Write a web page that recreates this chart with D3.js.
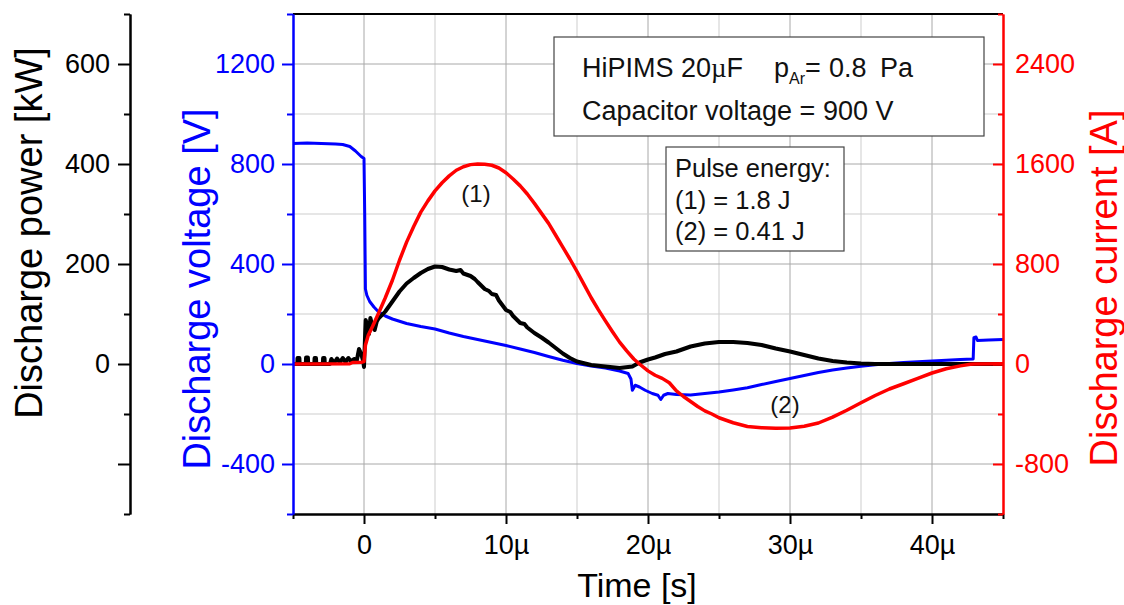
<!DOCTYPE html>
<html lang="en">
<head>
<meta charset="UTF-8">
<title>HiPIMS discharge</title>
<script src="https://d3js.org/d3.v7.min.js"></script>
<style>
  body { margin: 0; background: #fff; }
  svg text { font-family: "Liberation Sans", Arial, sans-serif; }
</style>
</head>
<body>
<script>
// time in µs
const voltage = [
  [-5, 882], [-4, 884], [-3, 882], [-2, 880], [-1.5, 878], [-1.0, 870], [-0.6, 852], [-0.2, 830],
  [0.0, 822], [0.05, 600], [0.1, 300], [0.2, 275], [0.4, 250], [0.7, 228], [1.0, 210], [1.5, 192],
  [2.0, 180], [3.0, 162], [4.0, 150], [5.0, 140], [6.0, 124], [7.0, 110], [8.0, 98], [9.0, 86],
  [10.0, 74], [11, 60], [12, 46], [13, 30], [14, 15], [15, 2], [16, -8], [17, -16], [18, -28],
  [18.6, -38], [18.8, -60], [18.9, -105], [19.1, -85], [19.4, -92], [19.8, -105], [20.3, -118],
  [20.7, -125], [20.9, -142], [21.1, -125], [21.4, -118], [22, -122], [23, -124], [24, -118],
  [25, -112], [26, -104], [27, -95], [28, -82], [29, -70], [30, -58], [31, -46], [32, -34],
  [33, -24], [34, -16], [35, -9], [36, -3], [37, 2], [38, 6], [39, 9], [40, 12], [41, 15],
  [42, 18], [42.9, 20], [42.95, 105], [43.1, 108], [43.2, 94], [44, 96], [45, 98]
];

const current = [
  [-5, 0], [-1, 2], [-0.8, 12], [-0.2, 14], [0.0, 20], [0.1, 150], [0.3, 230], [0.6, 300],
  [1.0, 400], [1.5, 530], [2.0, 670], [2.5, 830], [3.0, 975], [3.5, 1100], [4.0, 1215],
  [4.5, 1305], [5.0, 1385], [5.5, 1450], [6.0, 1505], [6.5, 1550], [7.0, 1578], [7.5, 1595],
  [8.0, 1600], [8.5, 1598], [9.0, 1590], [9.5, 1568], [10.0, 1530], [10.5, 1480], [11, 1425],
  [11.5, 1360], [12, 1285], [12.5, 1205], [13, 1125], [13.5, 1030], [14, 935], [14.5, 840],
  [15, 740], [15.5, 635], [16, 530], [16.5, 435], [17, 345], [17.5, 258], [18, 175], [18.5, 105],
  [19, 40], [19.4, 0], [20, -55], [20.5, -90], [21, -115], [21.5, -150], [22, -215], [22.5, -260],
  [23, -300], [23.5, -340], [24, -375], [24.5, -400], [25, -430], [26, -470], [27, -500],
  [28, -510], [29, -514], [30, -512], [31, -498], [32, -472], [33, -425], [34, -370], [35, -310],
  [36, -252], [37, -200], [38, -158], [39, -115], [40, -72], [41, -38], [42, -15], [42.7, -2],
  [43, 0], [45, 2]
];

const power = [
  [-5, 0], [-4.7, 0], [-4.68, 12], [-4.55, 12], [-4.53, 0], [-4.1, 0], [-4.08, 13], [-3.95, 13],
  [-3.93, 0], [-3.5, 0], [-3.48, 12], [-3.38, 12], [-3.36, 0], [-2.9, 0], [-2.88, 12], [-2.78, 12],
  [-2.76, 0], [-2.4, 0], [-2.3, 10], [-2.1, 2], [-1.9, 11], [-1.7, 3], [-1.5, 12], [-1.3, 4],
  [-1.1, 12], [-0.9, 5], [-0.7, 10], [-0.5, 8], [-0.35, 30], [-0.2, 20], [-0.05, 5], [0.0, -6],
  [0.08, 60], [0.12, 88], [0.25, 75], [0.35, 60], [0.45, 92], [0.6, 75], [0.75, 68], [0.9, 85],
  [1.0, 90], [1.5, 105], [2.0, 125], [2.5, 145], [3.0, 161], [3.5, 172], [4.0, 182], [4.5, 190],
  [5.0, 195], [5.5, 194], [6.0, 189], [6.5, 186], [6.8, 188], [7.0, 181], [7.5, 176], [7.8, 170],
  [8.0, 164], [8.5, 150], [8.8, 146], [9.0, 140], [9.3, 138], [9.5, 127], [10, 108], [10.3, 104],
  [10.5, 96], [11, 82], [11.3, 80], [11.5, 73], [12, 62], [12.5, 53], [13, 43], [13.5, 32],
  [14, 21], [14.5, 12], [15, 5], [16, -2], [17, -5], [18, -8], [18.9, -5], [19.4, 3], [20, 9],
  [20.5, 13], [21.2, 20], [22, 25], [23, 35], [24, 41], [25, 44], [26, 44], [27, 42], [28, 38],
  [29, 31], [30, 25], [31, 18], [32, 11], [33, 6], [34, 3], [35, 1], [36, 0], [45, 0]
];

const timeTicks = [0, 10, 20, 30, 40];
const timeMinor = [-5, 5, 15, 25, 35, 45];
const powerTicks = [-200, 0, 200, 400, 600];
const powerMinor = [-300, -100, 100, 300, 500, 700];
const voltTicks = [-400, 0, 400, 800, 1200];
const voltMinor = [-600, -200, 200, 600, 1000, 1400];
const currTicks = [-800, 0, 800, 1600, 2400];
const currMinor = [-1200, -400, 400, 1200, 2000, 2800];
const gridTime = [0, 5, 10, 15, 20, 25, 30, 35, 40];
const gridVolt = [-400, -200, 0, 200, 400, 600, 800, 1000, 1200];

const W = 1124, H = 605;
const L = 293, R = 1003, T = 14, B = 514;
const BLUE = "#0000ff", RED = "#ff0000";

const svg = d3.select("body").append("svg").attr("width", W).attr("height", H);

const x = d3.scaleLinear().domain([-5, 45]).range([L, R]);
const yV = d3.scaleLinear().domain([-600, 1400]).range([B, T]);
const yP = d3.scaleLinear().domain([-300, 700]).range([B, T]);
const yI = d3.scaleLinear().domain([-1200, 2800]).range([B, T]);

// grid
svg.append("g").selectAll("line").data(gridTime).enter().append("line")
  .attr("x1", d => x(d)).attr("x2", d => x(d)).attr("y1", T).attr("y2", B)
  .attr("stroke", d => d % 10 === 0 ? "#a8a8a8" : "#cdcdcd").attr("stroke-width", 1);
svg.append("g").selectAll("line").data(gridVolt).enter().append("line")
  .attr("x1", L).attr("x2", R).attr("y1", d => yV(d)).attr("y2", d => yV(d))
  .attr("stroke", d => d % 400 === 0 ? "#a8a8a8" : "#cdcdcd").attr("stroke-width", 1);

// top frame line
svg.append("line").attr("x1", L).attr("x2", R).attr("y1", T).attr("y2", T)
  .attr("stroke", "#000").attr("stroke-width", 2);

function axis(gen, scale, major, minor, size, minorSize, pad, fmt, color, tx, ty) {
  const g = svg.append("g").attr("transform", `translate(${tx},${ty})`);
  g.append("g").call(gen(scale).tickValues(minor).tickSize(minorSize).tickSizeOuter(0).tickFormat(""));
  g.append("g").call(gen(scale).tickValues(major).tickSize(size).tickSizeOuter(0)
    .tickPadding(pad).tickFormat(fmt));
  g.selectAll("path.domain").attr("stroke", color).attr("stroke-width", 2);
  g.selectAll(".tick line").attr("stroke", color).attr("stroke-width", 2);
  g.selectAll(".tick text").attr("fill", color).attr("font-size", 27)
    .attr("font-family", "'Liberation Sans', Arial, sans-serif");
  return g;
}

// curves
const lineOf = ys => d3.line().x(d => x(d[0])).y(d => ys(d[1]));
svg.append("path").datum(voltage).attr("d", lineOf(yV))
  .attr("fill", "none").attr("stroke", BLUE).attr("stroke-width", 3).attr("stroke-linejoin", "round");
svg.append("path").datum(power).attr("d", lineOf(yP))
  .attr("fill", "none").attr("stroke", "#000").attr("stroke-width", 4).attr("stroke-linejoin", "round");
svg.append("path").datum(current).attr("d", lineOf(yI))
  .attr("fill", "none").attr("stroke", RED).attr("stroke-width", 3.5).attr("stroke-linejoin", "round");

// axes
axis(d3.axisBottom, x, timeTicks, timeMinor, 10, 5, 11, d => d === 0 ? "0" : d + "µ", "#000", 0, B);
axis(d3.axisLeft, yP, powerTicks, powerMinor, 12, 6, 8, d => d < 0 ? "" : d, "#000", 130, 0);
axis(d3.axisLeft, yV, voltTicks, voltMinor, 11, 6, 7, d => d, BLUE, L, 0);
axis(d3.axisRight, yI, currTicks, currMinor, -10, -5, 12, d => d, RED, R, 0);

// axis titles
svg.append("text").attr("transform", "translate(42,233) rotate(-90)")
  .attr("text-anchor", "middle").attr("font-size", 38).attr("fill", "#000")
  .text("Discharge power [kW]");
svg.append("text").attr("transform", "translate(210,289) rotate(-90)")
  .attr("text-anchor", "middle").attr("font-size", 38).attr("fill", BLUE)
  .text("Discharge voltage [V]");
svg.append("text").attr("transform", "translate(1117,288) rotate(-90)")
  .attr("text-anchor", "middle").attr("font-size", 38).attr("fill", RED)
  .text("Discharge current [A]");
svg.append("text").attr("x", 637).attr("y", 597)
  .attr("text-anchor", "middle").attr("font-size", 34).attr("fill", "#000")
  .text("Time [s]");

// info box
svg.append("rect").attr("x", 554).attr("y", 37).attr("width", 430).attr("height", 99)
  .attr("fill", "#fff").attr("stroke", "#444").attr("stroke-width", 1.2);
const t1 = svg.append("text").attr("x", 582).attr("y", 77).attr("font-size", 27).attr("fill", "#111");
t1.append("tspan").text("HiPIMS 20");
t1.append("tspan").attr("font-family", "'Liberation Serif', serif").text("µ");
t1.append("tspan").text("F");
t1.append("tspan").attr("x", 774).text("p");
t1.append("tspan").attr("x", 789).attr("dy", 7).attr("font-size", 16).text("Ar");
t1.append("tspan").attr("x", 805).attr("dy", -7).text("=");
t1.append("tspan").attr("x", 829).text("0.8");
t1.append("tspan").attr("x", 880).text("Pa");
svg.append("text").attr("x", 582).attr("y", 120).attr("font-size", 27).attr("fill", "#111")
  .text("Capacitor voltage = 900 V");

// pulse energy box
svg.append("rect").attr("x", 666).attr("y", 147).attr("width", 178).attr("height", 104)
  .attr("fill", "#fff").attr("stroke", "#444").attr("stroke-width", 1.2);
const energyLines = ["Pulse energy:", "(1) = 1.8 J", "(2) = 0.41 J"];
svg.append("g").selectAll("text").data(energyLines).enter().append("text")
  .attr("x", 675).attr("y", (d, i) => 177 + i * 31.5)
  .attr("font-size", 25.5).attr("fill", "#111").text(d => d);

// curve labels
svg.append("text").attr("x", 476).attr("y", 202).attr("text-anchor", "middle")
  .attr("font-size", 24).attr("fill", "#111").text("(1)");
svg.append("text").attr("x", 785).attr("y", 413).attr("text-anchor", "middle")
  .attr("font-size", 24).attr("fill", "#111").text("(2)");
</script>
</body>
</html>
